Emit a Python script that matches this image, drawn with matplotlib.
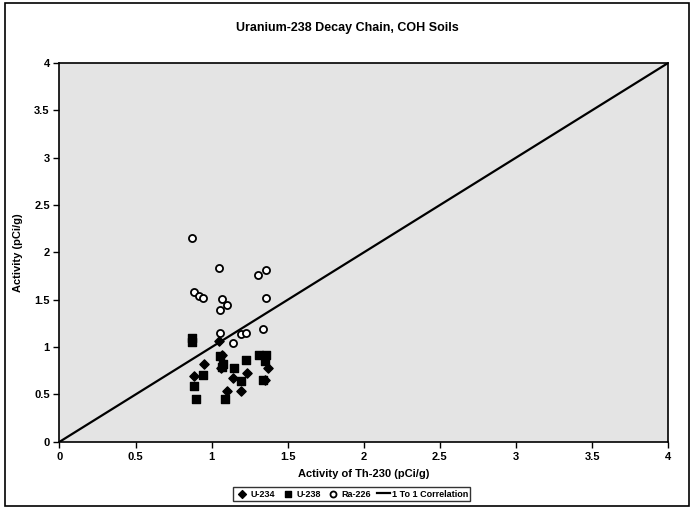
import matplotlib
matplotlib.use("Agg")
import matplotlib.pyplot as plt
from matplotlib.patches import Rectangle

plt.rcParams['font.family'] = ['Liberation Sans', 'DejaVu Sans']

u234_x = [0.95, 0.885, 1.14, 1.23, 1.19, 1.10, 1.37, 1.06, 1.05, 1.35, 1.07]
u234_y = [0.82, 0.70, 0.67, 0.73, 0.54, 0.54, 0.78, 0.78, 1.06, 0.65, 0.92]

u238_x = [0.87, 0.87, 1.055, 1.065, 0.945, 1.225, 1.145, 1.31, 1.36, 1.35, 1.19, 1.34, 0.885, 0.90, 1.09, 1.075]
u238_y = [1.10, 1.05, 0.91, 0.79, 0.71, 0.865, 0.78, 0.92, 0.92, 0.85, 0.64, 0.65, 0.59, 0.45, 0.45, 0.82]

ra226_x = [0.87, 1.05, 1.305, 1.36, 0.885, 0.915, 0.945, 1.065, 1.355, 1.055, 1.10, 1.055, 1.19, 1.225, 1.335, 1.14]
ra226_y = [2.155, 1.84, 1.76, 1.81, 1.585, 1.54, 1.515, 1.51, 1.52, 1.39, 1.44, 1.15, 1.14, 1.145, 1.19, 1.04]

line_x = [0, 4]
line_y = [0, 4]

xticks = [0, 0.5, 1, 1.5, 2, 2.5, 3, 3.5, 4]
yticks = [0, 0.5, 1, 1.5, 2, 2.5, 3, 3.5, 4]

fig = plt.figure(figsize=(6.94, 5.12), dpi=100)
fig.patches.append(Rectangle((0.007, 0.012), 0.986, 0.982, transform=fig.transFigure,
                             fill=False, edgecolor='black', linewidth=1.2))
ax = fig.add_axes([0.0857, 0.137, 0.877, 0.740])
ax.set_facecolor('#e4e4e4')

ax.scatter(u234_x, u234_y, marker='D', s=22, color='black', label='U-234', zorder=3)
ax.scatter(u238_x, u238_y, marker='s', s=30, color='black', label='U-238', zorder=3)
ax.scatter(ra226_x, ra226_y, marker='o', s=26, facecolors='white', edgecolors='black',
           linewidths=1.3, label='Ra-226', zorder=4)
ax.plot(line_x, line_y, color='black', linewidth=1.6, label='1 To 1 Correlation', zorder=2)

ax.set_xlim(0, 4)
ax.set_ylim(0, 4)
ax.set_xticks(xticks)
ax.set_yticks(yticks)
ax.set_xticklabels([f'{t:g}' for t in xticks], fontweight='bold', fontsize=8)
ax.set_yticklabels([f'{t:g}' for t in yticks], fontweight='bold', fontsize=8)
ax.tick_params(direction='out', length=4, width=1, pad=3)
for s in ax.spines.values():
    s.set_linewidth(1.2)
    s.set_color('black')

ax.set_xlabel('Activity of Th-230 (pCi/g)', fontweight='bold', fontsize=8, labelpad=5)
ax.set_ylabel('Activity (pCi/g)', fontweight='bold', fontsize=8, labelpad=8)
fig.text(0.5, 0.945, 'Uranium-238 Decay Chain, COH Soils', ha='center', va='center',
         fontweight='bold', fontsize=9)

leg = fig.legend(loc='center', bbox_to_anchor=(0.507, 0.035), ncol=4, frameon=True,
                 fancybox=False, edgecolor='black', handlelength=1.5,
                 columnspacing=0.6, handletextpad=0.2, borderpad=0.25,
                 markerscale=0.85, prop={'weight': 'bold', 'size': 6.5})
leg.get_frame().set_linewidth(1.0)

fig.savefig('out.png', dpi=100)
